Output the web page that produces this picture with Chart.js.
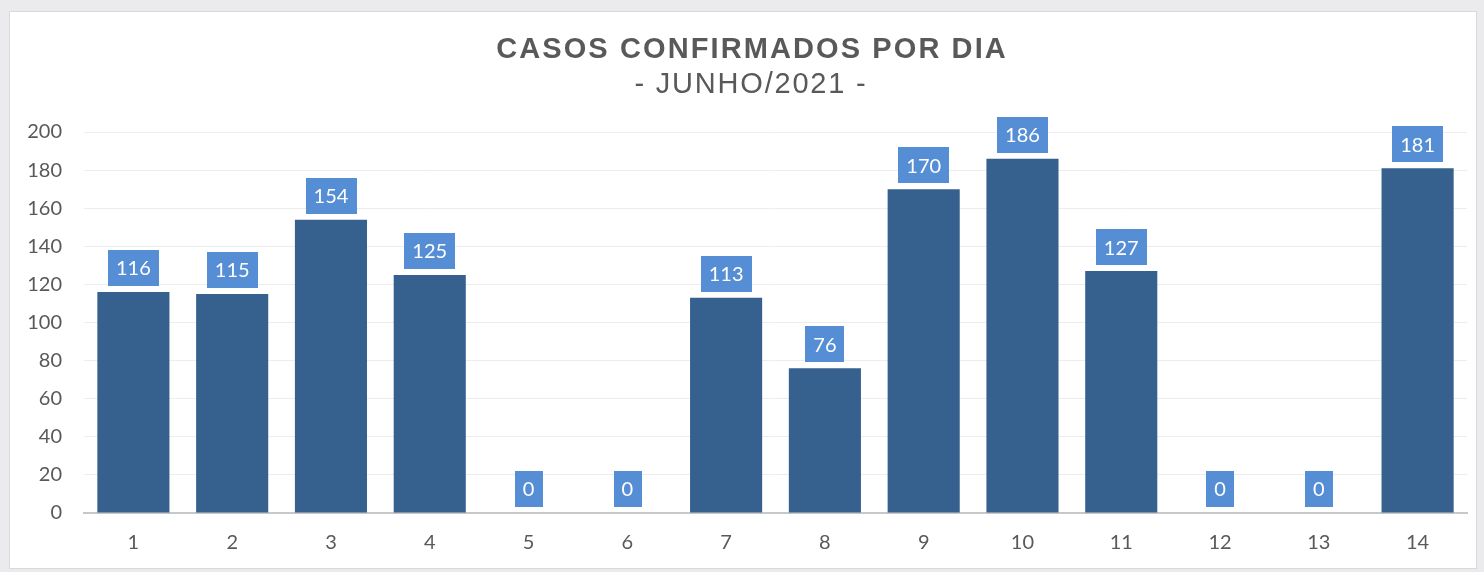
<!DOCTYPE html>
<html>
<head>
<meta charset="utf-8">
<script src="https://cdn.jsdelivr.net/npm/chart.js@4/dist/chart.umd.min.js"></script>
<style>
    html, body { margin: 0; padding: 0; background: #ebebee; }
    body { width: 1484px; height: 572px; position: relative; overflow: hidden; }
    .card {
        position: absolute; left: 9px; top: 11px;
        width: 1466px; height: 556px;
        background: #ffffff; border: 1px solid #d9d9d9;
    }
    .card canvas { display: block; }
</style>
</head>
<body>
<div class="card"><canvas id="casosChart" width="1466" height="556"></canvas></div>
<script>
// Dados do gráfico
const dias = ['1', '2', '3', '4', '5', '6', '7', '8', '9', '10', '11', '12', '13', '14'];
const casos = [116, 115, 154, 125, 0, 0, 113, 76, 170, 186, 127, 0, 0, 181];
const yTicks = [0, 20, 40, 60, 80, 100, 120, 140, 160, 180, 200];
const titulo = 'CASOS CONFIRMADOS POR DIA';
const subtitulo = '- JUNHO/2021 -';

const corTexto = '#595959';
const corBarra = '#36618f';
const corRotulo = '#558ed5';

// Título com espaçamento entre letras (o plugin padrão não suporta)
const tituloPlugin = {
    id: 'tituloEspacado',
    afterDraw(chart) {
        const ctx = chart.ctx;
        const cx = chart.width / 2 + 8;
        ctx.save();
        ctx.fillStyle = corTexto;
        ctx.textAlign = 'center';
        ctx.textBaseline = 'alphabetic';
        ctx.font = 'bold 29px "Liberation Sans"';
        ctx.letterSpacing = '2.1px';
        ctx.fillText(titulo, cx + 1, 46);
        ctx.font = '29px "Liberation Sans"';
        ctx.letterSpacing = '1.8px';
        ctx.fillText(subtitulo, cx, 81);
        ctx.restore();
    }
};

// Rótulos de dados em caixas azuis acima das barras
const rotulosPlugin = {
    id: 'rotulos',
    afterDatasetsDraw(chart) {
        const ctx = chart.ctx;
        const meta = chart.getDatasetMeta(0);
        ctx.save();
        ctx.font = '20px Lato';
        ctx.textAlign = 'center';
        ctx.textBaseline = 'middle';
        meta.data.forEach((bar, i) => {
            const txt = String(casos[i]);
            const w = ctx.measureText(txt).width + 16;
            const h = 36;
            const bottom = bar.y - 6;
            ctx.fillStyle = corRotulo;
            ctx.fillRect(Math.round(bar.x - w / 2), Math.round(bottom - h), Math.round(w), h);
            ctx.fillStyle = '#ffffff';
            ctx.fillText(txt, bar.x, bottom - h / 2 + 1);
        });
        ctx.restore();
    }
};

new Chart(document.getElementById('casosChart'), {
    type: 'bar',
    data: {
        labels: dias,
        datasets: [{
            label: 'Casos',
            data: casos,
            backgroundColor: corBarra,
            borderWidth: 0,
            barPercentage: 0.73,
            categoryPercentage: 1.0
        }]
    },
    options: {
        responsive: false,
        animation: false,
        layout: { padding: { top: 120, right: 9, bottom: 0, left: 0 } },
        plugins: {
            legend: { display: false },
            tooltip: { enabled: false },
            title: { display: false }
        },
        scales: {
            x: {
                grid: { display: false },
                border: { display: true, color: '#c8c8c8', width: 2 },
                ticks: { color: corTexto, font: { family: 'Lato', size: 20 }, padding: 10 },
                afterFit(scale) { scale.height = 55; }
            },
            y: {
                min: 0,
                max: 200,
                afterBuildTicks(scale) { scale.ticks = yTicks.map(v => ({ value: v })); },
                grid: { color: '#ededed', lineWidth: 1, drawTicks: false },
                border: { display: false },
                ticks: { color: corTexto, font: { family: 'Lato', size: 20 }, padding: 22 },
                afterFit(scale) { scale.width = 74; }
            }
        }
    },
    plugins: [rotulosPlugin, tituloPlugin]
});
</script>
</body>
</html>
